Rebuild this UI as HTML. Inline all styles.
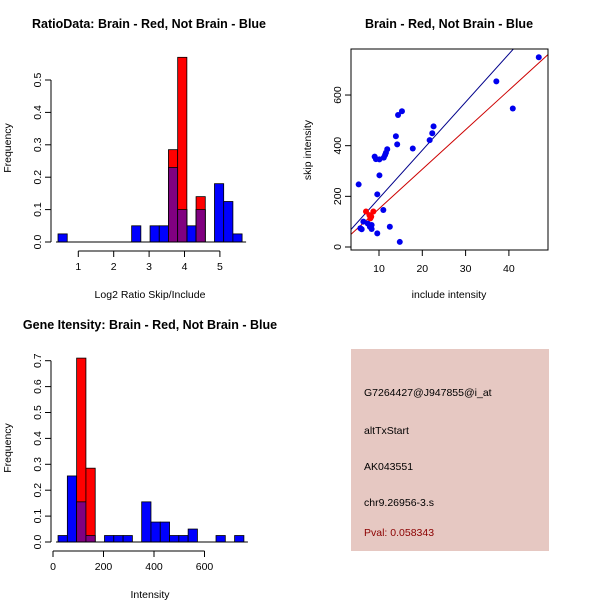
<!DOCTYPE html>
<html><head><meta charset="utf-8"><style>
body{margin:0;background:#fff;}
svg{display:block;font-family:"Liberation Sans",sans-serif;}
</style></head><body>
<svg id="c" width="600" height="600" xmlns="http://www.w3.org/2000/svg"></svg>
<script>
// ---- Ratio histogram data ----
const ratioBinStart = 0.427;
const ratioBinWidth = 0.26;
const ratioBlue = [0.025,0,0,0,0,0,0,0,0.05,0,0.05,0.05,0.23,0.1,0.05,0.1,0,0.18,0.125,0.025];
const ratioRed  = [0,0,0,0,0,0,0,0,0,0,0,0,0.285,0.57,0,0.14,0,0,0,0];
const ratioXTicks = [1,2,3,4,5];
const ratioYTicks = ["0.0","0.1","0.2","0.3","0.4","0.5"];
// ---- Intensity histogram data ----
const intBinStart = 20;
const intBinWidth = 36.8;
const intBlue = [0.025,0.255,0.155,0.025,0,0.025,0.025,0.025,0,0.155,0.077,0.077,0.025,0.025,0.05,0,0,0.025,0,0.025];
const intRed  = [0,0,0.71,0.285,0,0,0,0,0,0,0,0,0,0,0,0,0,0,0,0];
const intXTicks = [0,200,400,600];
const intYTicks = ["0.0","0.1","0.2","0.3","0.4","0.5","0.6","0.7"];
// ---- Scatter data ----
const blueX = [5.3,6.0,6.4,5.7,7.4,7.9,8.3,8.3,9.0,9.3,10.1,9.6,9.6,10.1,11.0,11.1,11.4,11.6,11.9,12.5,13.9,14.2,14.4,14.8,15.3,17.8,21.7,22.3,22.6,37.1,40.9,46.9];
const blueY = [247,70,100,74,93,80,71,87,357,347,346,208,54,283,146,353,363,372,386,80,437,405,521,20,536,389,422,449,476,654,547,749];
const redX = [7.0,7.8,8.2,8.7,8.0];
const redY = [140,126,120,140,113];
const blueFit = [2,19];    // intercept, slope
const redFit = [-5,15.6];
const scatXTicks = [10,20,30,40];
const scatYTicks = [0,200,400,600];

const svg = document.getElementById('c');
const NS = 'http://www.w3.org/2000/svg';
function mk(tag, attrs, parent){ const e=document.createElementNS(NS,tag); for(const k in attrs) e.setAttribute(k,attrs[k]); (parent||svg).appendChild(e); return e; }
function txt(s,x,y,opts,parent){ const t=mk('text',Object.assign({x:x,y:y,'font-size':10.5,'text-anchor':'middle',fill:'#000'},opts||{}),parent); t.textContent=s; return t; }

function hist(name, g, sx, sy, start, w, blue, red, xTicks, yTicks, yTickVal, axY, axX){
  blue.forEach((v,i)=>{ if(v>0){ const r=mk('rect',{x:sx(start+i*w),y:sy(v),width:sx(start+(i+1)*w)-sx(start+i*w),height:sy(0)-sy(v),fill:'#0000ff',stroke:'#000','stroke-width':0.8},g);
    
     }});
  red.forEach((v,i)=>{ if(v>0){ const r=mk('rect',{x:sx(start+i*w),y:sy(v),width:sx(start+(i+1)*w)-sx(start+i*w),height:sy(0)-sy(v),fill:'#ff0000',stroke:'#000','stroke-width':0.8},g);
    
    
    const m=Math.min(v,blue[i]); if(m>0){ const p=mk('rect',{x:sx(start+i*w),y:sy(m),width:sx(start+(i+1)*w)-sx(start+i*w),height:sy(0)-sy(m),fill:'#800080',stroke:'#000','stroke-width':0.8},g);
    
     } }});
  mk('line',{x1:sx(start)-2,x2:sx(start+blue.length*w)+4,y1:sy(0),y2:sy(0),stroke:'#000'},g);
  mk('line',{x1:sx(xTicks[0]),x2:sx(xTicks[xTicks.length-1]),y1:axX,y2:axX,stroke:'#000'},g);
  xTicks.forEach(t=>{ mk('line',{x1:sx(t),x2:sx(t),y1:axX,y2:axX+6,stroke:'#000'},g); txt(String(t),sx(t),axX+19,{},g); });
  mk('line',{x1:axY,x2:axY,y1:sy(0),y2:sy(yTickVal(yTicks.length-1)),stroke:'#000'},g);
  yTicks.forEach((t,i)=>{ const y=sy(yTickVal(i)); mk('line',{x1:axY-6,x2:axY,y1:y,y2:y,stroke:'#000'},g);
    txt(t,axY-10,y,{transform:`rotate(-90 ${axY-10} ${y})`},g); });
}

const g1=mk('g',{});
const s1x=v=>78.3+(v-1)*35.4, s1y=v=>242-v*324;
hist('ratio',g1,s1x,s1y,ratioBinStart,ratioBinWidth,ratioBlue,ratioRed,ratioXTicks,ratioYTicks,i=>i*0.1,51,251);
txt('RatioData: Brain - Red, Not Brain - Blue',149,28,{'font-weight':'bold','font-size':12.5,});
txt('Log2 Ratio Skip/Include',150,298,{});
txt('Frequency',11,148,{transform:'rotate(-90 11 148)',});

const g2=mk('g',{});
const s2x=v=>53+v*0.2525, s2y=v=>542-v*259;
hist('intensity',g2,s2x,s2y,intBinStart,intBinWidth,intBlue,intRed,intXTicks,intYTicks,i=>i*0.1,51,551);
txt('Gene Itensity: Brain - Red, Not Brain - Blue',150,329,{'font-weight':'bold','font-size':12.5,});
txt('Intensity',150,598,{});
txt('Frequency',11,448,{transform:'rotate(-90 11 448)',});

const g3=mk('g',{});
const sx3=v=>335.7+v*4.33, sy3=v=>247-v*0.2533;
mk('defs',{},g3).innerHTML='<clipPath id="cl"><rect x="351" y="49" width="197" height="201"/></clipPath>';
const pl=mk('g',{'clip-path':'url(#cl)'},g3);
[[blueFit,'#00008b','blue-fit-line'],[redFit,'#cd0000','red-fit-line']].forEach(([f,c,n])=>{
  const l=mk('line',{x1:sx3(0),y1:sy3(f[0]),x2:sx3(60),y2:sy3(f[0]+f[1]*60),stroke:c,'stroke-width':1},pl);
  
  
});
blueX.forEach((x,i)=>{ const c=mk('circle',{cx:sx3(x),cy:sy3(blueY[i]),r:3,fill:'#0000ee'},pl);
  
   });
redX.forEach((x,i)=>{ const c=mk('circle',{cx:sx3(x),cy:sy3(redY[i]),r:3,fill:'#ff0000'},pl);
  
   });
mk('rect',{x:351,y:49,width:197,height:201,fill:'none',stroke:'#000'},g3);
scatXTicks.forEach(t=>{ mk('line',{x1:sx3(t),x2:sx3(t),y1:250,y2:256,stroke:'#000'},g3); txt(String(t),sx3(t),272,{},g3); });
scatYTicks.forEach(t=>{ const y=sy3(t); mk('line',{x1:345,x2:351,y1:y,y2:y,stroke:'#000'},g3); txt(String(t),341,y,{transform:`rotate(-90 341 ${y})`},g3); });
txt('Brain - Red, Not Brain - Blue',449,28,{'font-weight':'bold','font-size':12.5,});
txt('include intensity',449,298,{});
txt('skip intensity',311,150,{transform:'rotate(-90 311 150)',});

const g4=mk('g',{});
mk('rect',{x:351,y:349,width:198,height:202,fill:'#e6c8c2'},g4);
[['G7264427@J947855@i_at',396,'#000'],['altTxStart',434,'#000'],['AK043551',470,'#000'],['chr9.26956-3.s',506,'#000'],['Pval: 0.058343',536,'#8b0000']].forEach(([s,y,c])=>{
  const t=txt(s,364,y,{'text-anchor':'start',fill:c},g4);
  
  
});
</script>
</body></html>
